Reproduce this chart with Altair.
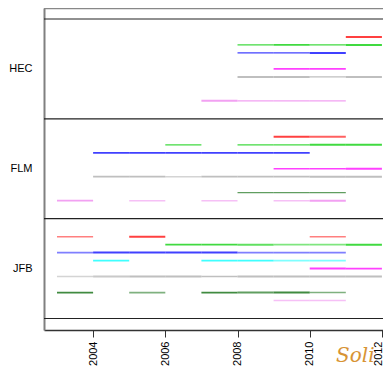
import altair as alt
import pandas as pd

# ---- data -------------------------------------------------------------
bands = ["HEC", "FLM", "JFB"]                 # top to bottom
band_center = [2, 1, 0]
colour_names = ["red", "green", "blue", "cyan", "magenta", "gray", "yellow", "darkgreen", "violet"]
colour_hex = ["#FF0000", "#00CD00", "#0000FF", "#00FFFF", "#FF00FF", "#A9A9A9", "#FFFF00", "#006400", "#EE82EE"]

# (colour, start year, weight level 1-4, certainty level 1-3)
hec_segments = [
    ("red", 2011, 4, 3),
    ("green", 2008, 1, 3), ("green", 2009, 3, 3), ("green", 2010, 1, 3), ("green", 2011, 4, 3),
    ("blue", 2008, 1, 3), ("blue", 2009, 1, 3), ("blue", 2010, 4, 3),
    ("magenta", 2009, 3, 3), ("magenta", 2010, 3, 3),
    ("gray", 2008, 4, 3), ("gray", 2009, 4, 3), ("gray", 2010, 1, 3), ("gray", 2011, 4, 3),
    ("violet", 2007, 4, 3), ("violet", 2008, 1, 3), ("violet", 2009, 1, 3), ("violet", 2010, 1, 3),
]
flm_segments = [
    ("red", 2009, 4, 3), ("red", 2010, 4, 2),
    ("green", 2006, 1, 3), ("green", 2008, 1, 3), ("green", 2009, 1, 3), ("green", 2010, 4, 3), ("green", 2011, 4, 3),
    ("blue", 2004, 3, 3), ("blue", 2005, 3, 3), ("blue", 2006, 3, 3), ("blue", 2007, 3, 3), ("blue", 2008, 3, 3), ("blue", 2009, 3, 3),
    ("magenta", 2009, 1, 3), ("magenta", 2010, 1, 3), ("magenta", 2011, 4, 3),
    ("gray", 2004, 3, 3), ("gray", 2005, 3, 3), ("gray", 2006, 2, 1), ("gray", 2007, 3, 3),
    ("gray", 2008, 3, 3), ("gray", 2009, 3, 3), ("gray", 2010, 4, 3), ("gray", 2011, 4, 3),
    ("darkgreen", 2008, 1, 2), ("darkgreen", 2009, 1, 2), ("darkgreen", 2010, 1, 2),
    ("violet", 2003, 3, 3), ("violet", 2005, 2, 1), ("violet", 2007, 2, 1), ("violet", 2009, 2, 1), ("violet", 2010, 4, 3),
]
jfb_segments = [
    ("red", 2003, 2, 1), ("red", 2005, 4, 3), ("red", 2010, 2, 1),
    ("green", 2006, 3, 3), ("green", 2007, 3, 3), ("green", 2008, 4, 2), ("green", 2009, 3, 1), ("green", 2010, 3, 1), ("green", 2011, 4, 3),
    ("blue", 2003, 2, 1), ("blue", 2004, 4, 3), ("blue", 2005, 4, 3), ("blue", 2006, 4, 3), ("blue", 2007, 4, 3),
    ("blue", 2008, 2, 1), ("blue", 2009, 2, 1), ("blue", 2010, 2, 1),
    ("cyan", 2004, 3, 3), ("cyan", 2007, 3, 3), ("cyan", 2008, 3, 3), ("cyan", 2009, 3, 1), ("cyan", 2010, 3, 1),
    ("magenta", 2010, 4, 3), ("magenta", 2011, 3, 3),
    ("gray", 2003, 2, 1), ("gray", 2004, 4, 2), ("gray", 2005, 4, 3), ("gray", 2006, 4, 3), ("gray", 2007, 2, 3),
    ("gray", 2008, 4, 3), ("gray", 2009, 4, 3), ("gray", 2010, 4, 3), ("gray", 2011, 4, 3),
    ("darkgreen", 2003, 3, 3), ("darkgreen", 2005, 3, 1), ("darkgreen", 2007, 3, 3), ("darkgreen", 2008, 4, 2),
    ("darkgreen", 2009, 4, 3), ("darkgreen", 2010, 2, 1),
    ("violet", 2009, 2, 1), ("violet", 2010, 2, 1),
]
year_ticks = [2004, 2006, 2008, 2010, 2012]
band_edges = [-0.5, 0.5, 1.5, 2.5]

# ---- table ------------------------------------------------------------
rows = []
for band, segs in zip(bands, [hec_segments, flm_segments, jfb_segments]):
    c = band_center[bands.index(band)]
    for col, yr, w, a in segs:
        slot = colour_names.index(col)
        rows.append({"band": band, "colour": col, "start": yr, "end": yr + 1,
                     "row": c + (4 - slot) * 0.08, "weight": w, "certainty": a})
df = pd.DataFrame(rows)

W, H = 339, 322
xscale = alt.Scale(domain=[2002.64, 2012.03], nice=False, zero=False)
yscale = alt.Scale(domain=[-0.615, 2.61], nice=False, zero=False)

label_expr = " : ".join(f"datum.value == {c} ? '{b}'" for b, c in zip(bands, band_center)) + " : ''"
yaxis = alt.Axis(values=band_center, labelExpr=label_expr, ticks=False, grid=False,
                 domainColor="#808080", domainWidth=2, labelPadding=12,
                 labelFontSize=11, labelFont="Liberation Sans", labelColor="#000000",
                 title=None)
xaxis = alt.Axis(values=year_ticks, format="d", labelAngle=270, tickSize=7,
                 tickColor="#333333", domainColor="#333333", domainWidth=1.5,
                 labelFontSize=11, labelFont="Liberation Sans", labelColor="#000000",
                 labelOffset={"condition": {"test": f"datum.value == {year_ticks[-1]}", "value": -3}, "value": 0},
                 labelPadding=4, grid=False, title=None)

segments = alt.Chart(df).mark_rule(strokeCap="butt").encode(
    x=alt.X("start:Q", scale=xscale, axis=xaxis),
    x2="end:Q",
    y=alt.Y("row:Q", scale=yscale, axis=yaxis),
    color=alt.Color("colour:N", scale=alt.Scale(domain=colour_names, range=colour_hex), legend=None),
    strokeWidth=alt.StrokeWidth("weight:O", scale=alt.Scale(domain=[1, 2, 3, 4], range=[1.3, 2.0, 2.6, 3.3]), legend=None),
    opacity=alt.Opacity("certainty:O", scale=alt.Scale(domain=[1, 2, 3], range=[0.5, 0.75, 1.0]), legend=None),
)

edges = alt.Chart(pd.DataFrame({"row": band_edges})).mark_rule(color="#222222", strokeWidth=1.2).encode(
    y=alt.Y("row:Q", scale=yscale, axis=yaxis),
    x=alt.value(0), x2=alt.value(W),
)

top_frame = alt.Chart(pd.DataFrame({"row": [2.605]})).mark_rule(color="#888888", strokeWidth=1.5).encode(
    y=alt.Y("row:Q", scale=yscale, axis=yaxis),
    x=alt.value(0), x2=alt.value(W),
)

watermark = alt.Chart(pd.DataFrame({"t": ["Soli"]})).mark_text(
    align="left", baseline="alphabetic", font="DejaVu Serif", fontStyle="italic",
    fontSize=20, color="#D4891C", opacity=0.9,
).encode(text="t:N", x=alt.value(292), y=alt.value(354))

chart = alt.layer(edges, top_frame, segments, watermark).properties(
    width=W, height=H,
    padding={"left": 36, "top": 0, "right": 0, "bottom": 37},
    autosize="none",
).configure_view(stroke=None)

chart.save("out.html", embed_options={"renderer": "svg", "actions": False})
